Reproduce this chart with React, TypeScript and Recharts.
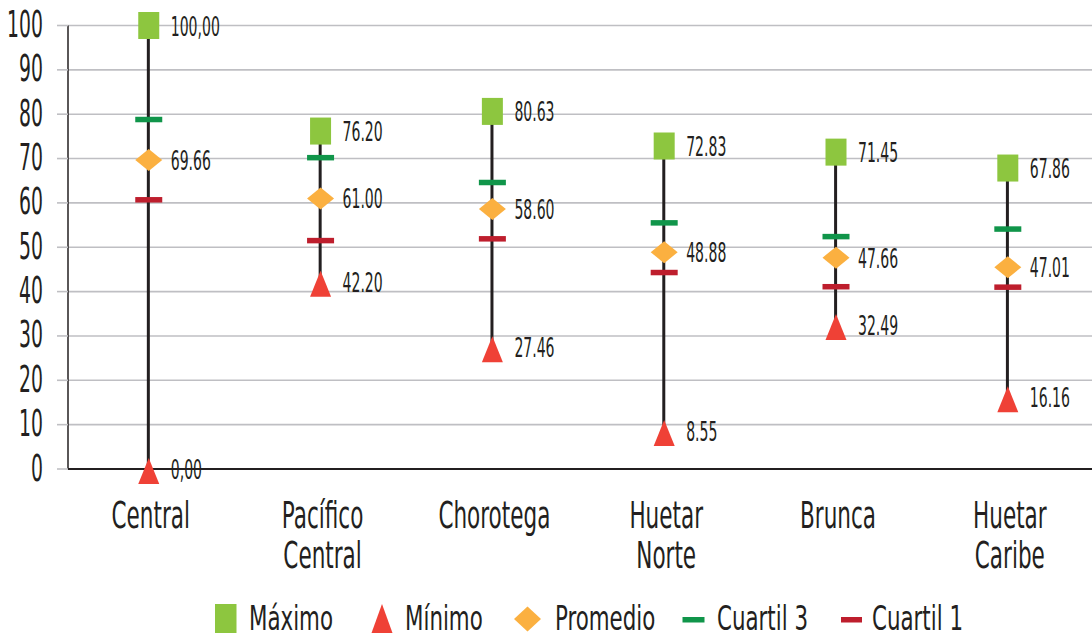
import React from "react";
import {
  ComposedChart,
  Bar,
  Scatter,
  XAxis,
  YAxis,
  CartesianGrid,
} from "recharts";

const categories = [
  "Central",
  "Pacífico Central",
  "Chorotega",
  "Huetar Norte",
  "Brunca",
  "Huetar Caribe",
];
const maxValues = [100, 76.2, 80.63, 72.83, 71.45, 67.86];
const minValues = [0, 42.2, 27.46, 8.55, 32.49, 16.16];
const meanValues = [69.66, 61.0, 58.6, 48.88, 47.66, 45.5];
const q3Values = [78.8, 70.2, 64.6, 55.5, 52.4, 54.1];
const q1Values = [60.7, 51.5, 51.9, 44.3, 41.1, 41.0];
const maxLabels = ["100,00", "76.20", "80.63", "72.83", "71.45", "67.86"];
const minLabels = ["0,00", "42.20", "27.46", "8.55", "32.49", "16.16"];
const meanLabels = ["69.66", "61.00", "58.60", "48.88", "47.66", "47.01"];
const yTicks = [0, 10, 20, 30, 40, 50, 60, 70, 80, 90, 100];
const legendNames = ["Máximo", "Mínimo", "Promedio", "Cuartil 3", "Cuartil 1"];

const data = categories.map((name, i) => ({
  idx: i,
  name,
  max: maxValues[i],
  min: minValues[i],
  mean: meanValues[i],
  q3: q3Values[i],
  q1: q1Values[i],
}));

const FONT = "'DejaVu Sans Condensed', 'Liberation Sans Narrow', sans-serif";
const INK = "#231f20";
const C_MAX = "#8dc63f";
const C_MIN = "#ef4136";
const C_MEAN = "#fbb040";
const C_Q3 = "#10954a";
const C_Q1 = "#be1e2d";
const GRID = "#bfbfc3";

const ValueLabel = ({ x, y, text }: { x: number; y: number; text: string }) => (
  <text
    transform={`translate(${x + 22},${y + 10}) scale(0.6,1)`}
    fontFamily={FONT}
    fontSize={26}
    fill={INK}
  >
    {text}
  </text>
);

const MaxShape = (props: any) => {
  const { cx, cy, payload } = props;
  return (
    <g>
      <rect x={cx - 10.5} y={cy - 13.5} width={21} height={27} fill={C_MAX} />
      <ValueLabel x={cx} y={cy} text={maxLabels[payload.idx]} />
    </g>
  );
};

const MinShape = (props: any) => {
  const { cx, cy, payload } = props;
  return (
    <g>
      <polygon
        points={`${cx - 10.5},${cy + 15} ${cx + 10.5},${cy + 15} ${cx},${cy - 11}`}
        fill={C_MIN}
      />
      <ValueLabel x={cx} y={cy} text={minLabels[payload.idx]} />
    </g>
  );
};

const MeanShape = (props: any) => {
  const { cx, cy, payload } = props;
  return (
    <g>
      <polygon
        points={`${cx - 13.5},${cy} ${cx},${cy - 11} ${cx + 13.5},${cy} ${cx},${cy + 11}`}
        fill={C_MEAN}
      />
      <ValueLabel x={cx} y={cy} text={meanLabels[payload.idx]} />
    </g>
  );
};

const makeDash = (color: string) => (props: any) => {
  const { cx, cy } = props;
  return <rect x={cx - 13.5} y={cy - 2.75} width={27} height={5.5} fill={color} />;
};
const Q3Shape = makeDash(C_Q3);
const Q1Shape = makeDash(C_Q1);

const YTick = (props: any) => {
  const { x, y, payload } = props;
  return (
    <text
      transform={`translate(${x},${y + 11.5}) scale(0.55,1)`}
      textAnchor="end"
      fontFamily={FONT}
      fontSize={38}
      fill={INK}
    >
      {payload.value}
    </text>
  );
};

const XTick = (props: any) => {
  const { x, y, payload } = props;
  const lines = categories[payload.value].split(" ");
  return (
    <g>
      {lines.map((ln, i) => (
        <text
          key={i}
          transform={`translate(${x + 2},${y + 59 + i * 40}) scale(0.63,1)`}
          textAnchor="middle"
          fontFamily={FONT}
          fontSize={38}
          fill={INK}
        >
          {ln}
        </text>
      ))}
    </g>
  );
};

const legendIcons = [
  (x: number) => <rect x={x} y={604} width={21.5} height={29} fill={C_MAX} />,
  (x: number) => (
    <polygon points={`${x},633 ${x + 21},633 ${x + 10.5},604`} fill={C_MIN} />
  ),
  (x: number) => (
    <polygon
      points={`${x},619 ${x + 13.5},606.5 ${x + 27},619 ${x + 13.5},631.5`}
      fill={C_MEAN}
    />
  ),
  (x: number) => <rect x={x} y={617} width={22} height={5.5} fill={C_Q3} />,
  (x: number) => <rect x={x} y={617} width={21} height={5.5} fill={C_Q1} />,
];
const legendIconX = [215, 371.5, 514, 682.5, 841];
const legendTextX = [249, 405, 555, 717, 872];

const Legend = () => (
  <svg
    width={1092}
    height={639}
    style={{ position: "absolute", left: 0, top: 0, pointerEvents: "none" }}
  >
    {legendNames.map((name, i) => (
      <g key={name}>
        {legendIcons[i](legendIconX[i])}
        <text
          transform={`translate(${legendTextX[i]},630) scale(0.72,1)`}
          fontFamily={FONT}
          fontSize={33}
          fill={INK}
        >
          {name}
        </text>
      </g>
    ))}
  </svg>
);

export default function App() {
  return (
    <div
      style={{
        position: "absolute",
        left: 0,
        top: 0,
        width: 1092,
        height: 639,
        background: "#ffffff",
      }}
    >
      <ComposedChart
        width={1092}
        height={639}
        data={data}
        margin={{ top: 25.5, right: 0, left: 0, bottom: 0 }}
      >
        <CartesianGrid
          horizontal
          vertical={false}
          stroke={GRID}
          strokeWidth={1.6}
        />
        <XAxis
          dataKey="idx"
          type="number"
          domain={[-0.47, 5.49]}
          ticks={[0, 1, 2, 3, 4, 5]}
          allowDataOverflow
          height={170}
          tickLine={false}
          tickSize={0}
          tickMargin={0}
          axisLine={{ stroke: INK, strokeWidth: 2 }}
          tick={<XTick />}
          interval={0}
        />
        <YAxis
          type="number"
          domain={[0, 100]}
          ticks={yTicks}
          width={68}
          tickSize={11}
          tickMargin={14}
          tickLine={{ stroke: GRID, strokeWidth: 1.6 }}
          axisLine={{ stroke: INK, strokeWidth: 1.5 }}
          tick={<YTick />}
          interval={0}
        />
        <Bar
          dataKey={(d: any) => [d.min, d.max]}
          barSize={3}
          fill={INK}
          isAnimationActive={false}
        />
        <Scatter dataKey="q3" shape={Q3Shape} isAnimationActive={false} />
        <Scatter dataKey="q1" shape={Q1Shape} isAnimationActive={false} />
        <Scatter dataKey="mean" shape={MeanShape} isAnimationActive={false} />
        <Scatter dataKey="min" shape={MinShape} isAnimationActive={false} />
        <Scatter dataKey="max" shape={MaxShape} isAnimationActive={false} />
      </ComposedChart>
      <Legend />
    </div>
  );
}
